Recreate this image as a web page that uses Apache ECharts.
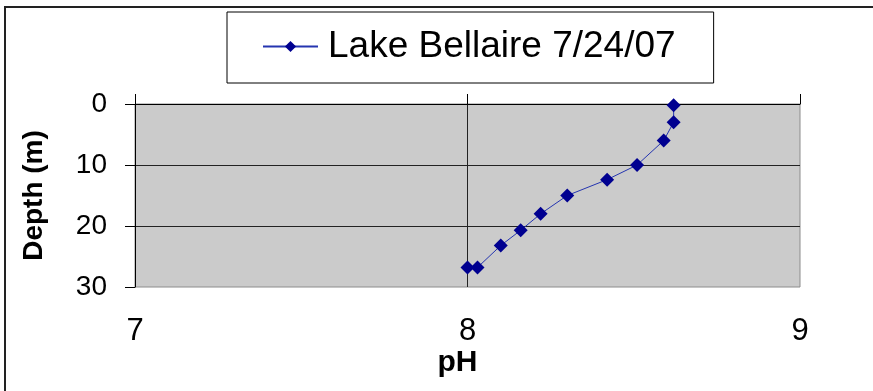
<!DOCTYPE html>
<html>
<head>
<meta charset="utf-8">
<script src="https://cdn.jsdelivr.net/npm/echarts@6/dist/echarts.min.js"></script>
<style>
  html, body { margin: 0; padding: 0; background: #fff; }
  #chart { width: 873px; height: 391px; }
</style>
</head>
<body>
<div id="chart"></div>
<script>
// Lake Bellaire pH profile, 7/24/07
const seriesName = 'Lake Bellaire 7/24/07';
const phValues = [8.62, 8.62, 8.59, 8.51, 8.42, 8.30, 8.22, 8.16, 8.10, 8.03, 8.00];
const depthValues = [0.2, 3, 6, 10, 12.4, 15, 18, 20.7, 23.2, 26.8, 26.8];
const phTicks = [7, 8, 9];
const depthTicks = [0, 10, 20, 30];

const FONT = '"Liberation Sans", Arial, sans-serif';
const points = phValues.map((p, i) => [p, depthValues[i]]);

const chart = echarts.init(document.getElementById('chart'), null, { renderer: 'canvas' });
chart.setOption({
  animation: false,
  backgroundColor: '#ffffff',
  textStyle: { fontFamily: FONT },
  graphic: [{
    type: 'rect',
    shape: { x: 5, y: 7, width: 900, height: 420 },
    style: { fill: 'none', stroke: '#222', lineWidth: 2 },
    silent: true,
    z: -10
  }],
  legend: {
    left: 227,
    top: 12,
    padding: [16, 38, 18, 35],
    itemWidth: 55,
    itemHeight: 14,
    itemGap: 0,
    borderColor: '#000',
    borderWidth: 1,
    backgroundColor: '#fff',
    textStyle: { fontFamily: FONT, fontSize: 37, color: '#000', padding: [0, 0, 0, 5] },
    data: [seriesName]
  },
  grid: {
    left: 135,
    top: 104,
    right: 73,
    bottom: 104,
    show: true,
    backgroundColor: '#cbcbcb',
    borderColor: '#8c8c8c',
    borderWidth: 1
  },
  xAxis: [{
    type: 'value',
    position: 'top',
    min: phTicks[0],
    max: phTicks[phTicks.length - 1],
    interval: 1,
    axisLine: { show: true, lineStyle: { color: '#000', width: 1 } },
    axisTick: { show: true, inside: false, length: 10, lineStyle: { color: '#000' } },
    axisLabel: { show: false },
    splitLine: { show: true, showMinLine: false, showMaxLine: false, lineStyle: { color: '#222', width: 1 } }
  }, {
    type: 'value',
    position: 'bottom',
    min: phTicks[0],
    max: phTicks[phTicks.length - 1],
    interval: 1,
    axisLine: { show: false },
    axisTick: { show: false },
    splitLine: { show: false },
    axisLabel: { show: true, margin: 29, fontSize: 31, color: '#000', fontFamily: FONT },
    name: 'pH',
    nameLocation: 'middle',
    nameGap: 60,
    nameTextStyle: { fontSize: 30, fontWeight: 'bold', color: '#000', fontFamily: FONT, padding: [0, 20, 0, 0] }
  }],
  yAxis: {
    type: 'value',
    inverse: true,
    min: depthTicks[0],
    max: depthTicks[depthTicks.length - 1],
    interval: 10,
    axisLine: { show: true, lineStyle: { color: '#000', width: 1 } },
    axisTick: { show: true, inside: false, length: 10, lineStyle: { color: '#000' } },
    axisLabel: { margin: 28, fontSize: 28, color: '#000', fontFamily: FONT },
    splitLine: { show: true, showMinLine: false, showMaxLine: false, lineStyle: { color: '#222', width: 1 } },
    name: 'Depth (m)',
    nameLocation: 'middle',
    nameGap: 87,
    nameTextStyle: { fontSize: 28, fontWeight: 'bold', color: '#000', fontFamily: FONT }
  },
  series: [{
    name: seriesName,
    type: 'line',
    xAxisIndex: 0,
    data: points,
    symbol: 'diamond',
    symbolSize: 14,
    itemStyle: { color: '#000090' },
    lineStyle: { color: '#2535b0', width: 1 }
  }]
});
</script>
</body>
</html>
